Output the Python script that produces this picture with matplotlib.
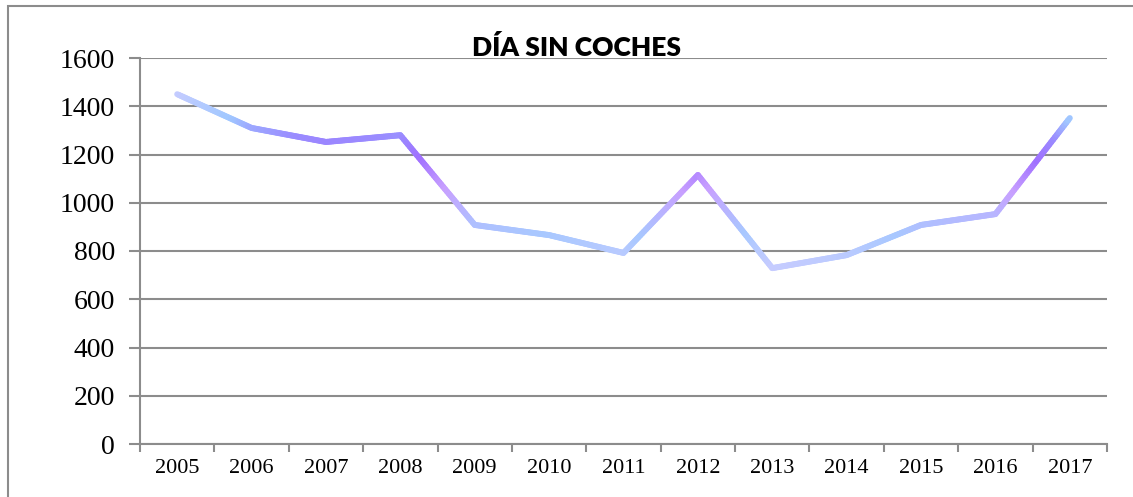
import numpy as np
import matplotlib.pyplot as plt
from matplotlib.collections import LineCollection
from matplotlib.colors import LinearSegmentedColormap
from matplotlib.patches import Rectangle

years = ['2005', '2006', '2007', '2008', '2009', '2010', '2011',
         '2012', '2013', '2014', '2015', '2016', '2017']
values = [1450, 1310, 1252, 1280, 908, 866, 792, 1115, 729, 783, 908, 953, 1351]
y_ticks = [0, 200, 400, 600, 800, 1000, 1200, 1400, 1600]

fig = plt.figure(figsize=(11.33, 4.97), dpi=100)
ax = fig.add_axes([140 / 1133, 1 - 444 / 497, (1107 - 140) / 1133, (444 - 58) / 497])

# outer frame of the chart area (runs off the right and bottom edges)
fig.patches.append(Rectangle((8 / 1133, -0.1), 1.2, 1.1 - 6 / 497,
                             transform=fig.transFigure, fill=False,
                             edgecolor='#8c8c8c', linewidth=1.5))

x = np.arange(len(years)) + 0.5
y = np.array(values, dtype=float)

# subdivide the line so it can carry a colour gradient
xs, ys = [], []
for i in range(len(x) - 1):
    t = np.linspace(0, 1, 40, endpoint=False)
    xs.append(x[i] + (x[i + 1] - x[i]) * t)
    ys.append(y[i] + (y[i + 1] - y[i]) * t)
xs.append([x[-1]])
ys.append([y[-1]])
xs = np.concatenate(xs)
ys = np.concatenate(ys)
pts = np.column_stack([xs, ys]).reshape(-1, 1, 2)
segs = np.concatenate([pts[:-1], pts[1:]], axis=1)
mid = (ys[:-1] + ys[1:]) / 2

cmap = LinearSegmentedColormap.from_list('grad', [
    (0.00, '#c8ccff'), (0.20, '#a8c8ff'), (0.45, '#c8a0ff'),
    (0.62, '#a070ff'), (0.75, '#9a8cff'), (0.85, '#a0c8ff'), (1.00, '#c8ccff')])
lc = LineCollection(segs, cmap=cmap, norm=plt.Normalize(720, 1460),
                    linewidth=4.3, capstyle='round', joinstyle='round', zorder=3)
lc.set_array(mid)
ax.add_collection(lc)

ax.set_xlim(0, len(years))
ax.set_ylim(0, 1600)
ax.set_yticks(y_ticks)
ax.set_yticklabels([str(v) for v in y_ticks], fontsize=20, family='Liberation Serif')
ax.set_xticks(np.arange(len(years) + 1))
ax.set_xticklabels([])
ax.set_xticks(x, minor=True)
ax.set_xticklabels(years, minor=True, fontsize=16, family='Liberation Serif')

ax.grid(axis='y', color='#8c8c8c', linewidth=1.5)
ax.set_axisbelow(True)
for s in ['top', 'right']:
    ax.spines[s].set_visible(False)
for s in ['left', 'bottom']:
    ax.spines[s].set_color('#8c8c8c')
    ax.spines[s].set_linewidth(1.5)
ax.tick_params(axis='y', which='major', length=8, width=1.5, color='#8c8c8c', pad=10)
ax.tick_params(axis='x', which='major', length=6, width=1.5, color='#8c8c8c')
ax.tick_params(axis='x', which='minor', length=0, pad=11)

fig.text(0.509, 1 - 47 / 497, 'DÍA SIN COCHES', ha='center', va='center',
         fontsize=19, fontweight='heavy', family='Lato')

fig.savefig('out.png', dpi=100)
